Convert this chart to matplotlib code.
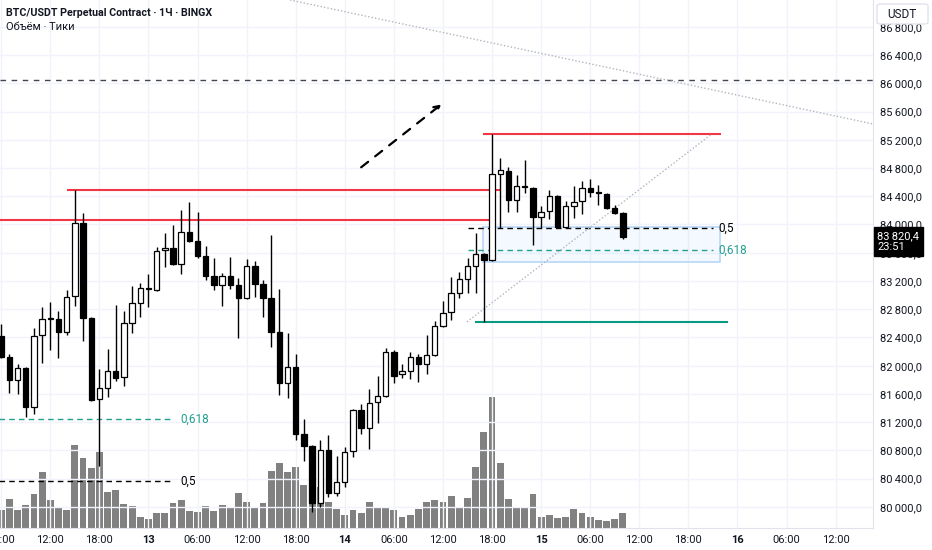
import matplotlib
matplotlib.use("Agg")
import matplotlib.pyplot as plt
from matplotlib.patches import Rectangle, FancyBboxPatch
from matplotlib.transforms import blended_transform_factory

# Hourly candles, 12th 06:00 -> 15th 10:00 (BTC/USDT, BingX)
opens = [82421, 82124, 81798, 81968, 81416, 82435, 82665, 82662, 82478, 82987,
         84021, 82676, 81529, 81685, 81925, 81840, 82605, 82888, 83101, 83072,
         83639, 83667, 83441, 83894, 83766, 83554, 83271, 83143, 83271, 83143,
         82959, 83412, 83157, 82959, 82478, 81755, 81982, 81033, 80863, 80056,
         80807, 80198, 80354, 80793, 81373, 81118, 81487, 81571, 82195, 81883,
         81925, 82124, 82025, 82152, 82563, 82761, 83030, 83228, 83412, 83582,
         83497, 84715, 84757, 84347, 84545, 84517, 84106, 84191, 84403, 83965,
         84262, 84333, 84517, 84460, 84432, 84234, 84163]
highs = [82591, 82166, 82025, 81982, 82534, 82832, 82903, 82775, 83072, 84488,
         84163, 82690, 81954, 82237, 82860, 82775, 83129, 83171, 83299, 83681,
         83880, 83993, 84205, 84319, 84177, 83695, 83526, 83313, 83540, 83242,
         83511, 83483, 83214, 83851, 83087, 82463, 82166, 81246, 80878, 80948,
         81019, 80722, 80849, 81387, 81458, 81671, 81855, 82251, 82223, 82025,
         82195, 82166, 82435, 82633, 82917, 83256, 83327, 83526, 83880, 83590,
         85285, 84942, 84814, 84701, 84913, 84531, 84262, 84488, 84417, 84333,
         84545, 84616, 84644, 84559, 84440, 84276, 84177]
lows = [82110, 81614, 81600, 81274, 81317, 82039, 82223, 82110, 82435, 82846,
        82350, 81501, 80584, 81557, 81784, 81713, 82463, 82690, 82832, 83058,
        83398, 83426, 83299, 83752, 83526, 83214, 83072, 82846, 83087, 82393,
        82945, 82973, 82690, 82265, 81586, 81543, 80948, 80651, 79929, 80000,
        80141, 80155, 80283, 80708, 81033, 80821, 81189, 81560, 81755, 81826,
        81812, 81770, 81883, 82140, 82550, 82648, 82959, 83030, 83030, 82620,
        83483, 83950, 84177, 84177, 84446, 83710, 83950, 84078, 83950, 83950,
        84092, 84149, 84389, 84276, 84225, 84155, 83795]
closes = [82124, 81798, 81968, 81416, 82421, 82662, 82675, 82478, 82973, 84021,
          82676, 81515, 81685, 81925, 81826, 82605, 82888, 83101, 83087, 83625,
          83667, 83441, 83894, 83766, 83554, 83271, 83143, 83271, 83143, 82959,
          83412, 83157, 82959, 82478, 81755, 81982, 81033, 80863, 80056, 80807,
          80198, 80354, 80779, 81373, 81118, 81472, 81571, 82195, 81855, 81925,
          82124, 82025, 82152, 82563, 82747, 83030, 83228, 83412, 83582, 83497,
          84715, 84772, 84347, 84545, 84531, 84106, 84177, 84403, 83965, 84262,
          84319, 84517, 84460, 84446, 84234, 84163, 83820.4]
volumes = [180, 287, 180, 230, 337, 563, 277, 213, 177, 827,
           697, 597, 763, 363, 377, 237, 217, 110, 93, 155,
           147, 253, 277, 170, 160, 217, 170, 230, 197, 353,
           263, 213, 253, 570, 647, 563, 615, 430, 537, 410,
           263, 190, 127, 177, 150, 263, 213, 203, 183, 110,
           127, 187, 263, 277, 263, 325, 197, 297, 610, 963,
           1313, 653, 287, 210, 203, 337, 113, 127, 97, 110,
           187, 147, 113, 83, 70, 93, 147]

# time axis: one label every 6 candles, starting at the first candle
time_labels = ["06:00", "12:00", "18:00", "13", "06:00", "12:00", "18:00", "14",
               "06:00", "12:00", "18:00", "15", "06:00", "12:00", "18:00", "16",
               "06:00", "12:00"]
day_labels = ["13", "14", "15", "16"]
price_ticks = list(range(80000, 86801, 400))

# drawn levels
resistance_top = 85285
resistance_mid = 84489
resistance_low = 84064
support_low = 82620
level_86k = 86045
fib_right = [("0,5", 83950), ("0,618", 83639)]
fib_left = [("0,5", 80368), ("0,618", 81246)]
zone_top, zone_bottom = 83969, 83473
last_price = 83820.4
last_time_left = "23:51"

RED = "#f23645"
TEAL = "#22a08f"
GREEN = "#089981"
GRID = "#f0f3fa"
TXT = "#131722"

plt.rcParams["font.family"] = ["Roboto", "DejaVu Sans"]


def fmt_price(v):
    s = f"{v:,.1f}"
    return s.replace(",", "\u202f").replace(".", ",")


fig = plt.figure(figsize=(9.32, 5.5), dpi=100)
ax = fig.add_axes([0, 22 / 550, 873 / 932, 528 / 550])
vol_ax = ax.twinx()
ax.set_zorder(2)
vol_ax.set_zorder(1)
ax.patch.set_visible(False)

n = len(closes)
xs = list(range(n))

# volume pane (overlaid at the bottom)
vol_ax.bar(xs, volumes, width=0.84, color="#7a7a7a", alpha=0.95, zorder=1)
vol_ax.set_ylim(0, 5280)
vol_ax.axis("off")

ax.set_xlim(-0.15, 106.57)
ax.set_ylim(79702, 87179)

# grid
tick_pos = [i * 6 for i in range(len(time_labels))]
for t in tick_pos:
    ax.axvline(t, color=GRID, lw=1, zorder=0)
for p in price_ticks:
    ax.axhline(p, color=GRID, lw=1, zorder=0)

# candles
for i in xs:
    o, h, l, c = opens[i], highs[i], lows[i], closes[i]
    ax.vlines(i, l, h, color="black", lw=1, zorder=3)
    up = c >= o
    body = max(abs(c - o), 8)
    ax.bar(i, body, bottom=min(o, c), width=0.66,
           color="white" if up else "black", edgecolor="black", lw=0.9, zorder=4)

# horizontal levels
ax.axhline(level_86k, color="#434651", lw=1, ls=(0, (4, 4)), zorder=2)
ax.hlines(resistance_low, -1, 60.0, color=RED, lw=1.5, zorder=2)
ax.hlines(resistance_mid, 8.0, 61.0, color=RED, lw=1.5, zorder=2)
ax.hlines(resistance_top, 58.9, 88.0, color=RED, lw=1.5, zorder=2)
ax.hlines(support_low, 57.9, 88.8, color=GREEN, lw=1.5, zorder=2)

# fib zone on the right
ax.add_patch(Rectangle((58.86, zone_bottom), 87.87 - 58.86, zone_top - zone_bottom,
                       facecolor="#2196f3", alpha=0.05, edgecolor="none", zorder=1))
ax.add_patch(Rectangle((58.86, zone_bottom), 87.87 - 58.86, zone_top - zone_bottom,
                       facecolor="none", edgecolor="#b8d7f6", lw=1.2, zorder=1))
for name, val in fib_right:
    col = TEAL if name == "0,618" else "black"
    ax.hlines(val, 57.06, 87.0, color=col, lw=1, ls=(0, (4, 3)), zorder=2)
    ax.text(87.7, val, name, color=col, fontsize=8.5, va="center", ha="left", zorder=5)

# fib levels on the left
for name, val in fib_left:
    col = TEAL if name == "0,618" else "black"
    ax.hlines(val, -1, 20.9, color=col, lw=1, ls=(0, (4, 3)), zorder=2)
    ax.text(21.85, val, name, color=col, fontsize=8.5, va="center", ha="left", zorder=5)

# trend lines
ax.plot([35.3, 106.6], [87179, 85423], color="#b2b5be", lw=1, ls=(0, (1, 1.5)), zorder=2)
ax.plot([56.93, 86.85], [support_low, 85281], color="#b2b5be", lw=1, ls=(0, (1, 1.5)), zorder=2)

# dashed arrow
ax.annotate("", xy=(53.8, 85700), xytext=(44.0, 84810),
            arrowprops=dict(arrowstyle="->", color="black", lw=1.6,
                            linestyle=(0, (4, 4)), shrinkA=0, shrinkB=0), zorder=5)

# axes styling
for side in ["top", "left"]:
    ax.spines[side].set_visible(False)
ax.spines["right"].set_color("#e0e3eb")
ax.spines["bottom"].set_color("#e0e3eb")
ax.yaxis.tick_right()
ax.set_yticks(price_ticks)
ax.set_yticklabels([fmt_price(p) for p in price_ticks])
ax.tick_params(axis="y", length=0, pad=5, labelsize=8, labelcolor=TXT)
ax.set_xticks(tick_pos)
ax.set_xticklabels(time_labels)
ax.tick_params(axis="x", length=0, pad=5, labelsize=8, labelcolor=TXT)
for lab in ax.get_xticklabels():
    if lab.get_text() in day_labels:
        lab.set_fontweight("bold")

# last price label
blend = blended_transform_factory(ax.transAxes, ax.transData)
ax.annotate(fmt_price(last_price) + "\n" + last_time_left, xy=(1, last_price), xycoords=blend,
            xytext=(3.2, 4.5), textcoords="offset points", va="top", ha="left",
            color="white", fontsize=8, linespacing=1.1, annotation_clip=False,
            bbox=dict(boxstyle="square,pad=0.35", fc="black", ec="black"), zorder=10)

# header texts
fig.text(6 / 932, 1 - 13 / 550, "BTC/USDT Perpetual Contract · 1Ч · BINGX",
         fontsize=7.7, fontweight="bold", color=TXT, va="center", ha="left")
fig.text(6 / 932, 1 - 27 / 550, "Объём · Тики", fontsize=8, color=TXT,
         va="center", ha="left")

# currency badge in the top right corner
badge = FancyBboxPatch((877 / 932, 1 - 24 / 550), 51 / 932, 20 / 550,
                       boxstyle="round,pad=0,rounding_size=0.004",
                       transform=fig.transFigure, fc="white", ec="#e0e3eb", lw=1,
                       zorder=2)
fig.patches.append(badge)
fig.text(902 / 932, 1 - 14 / 550, "USDT", fontsize=8.5, color=TXT, va="center",
         ha="center", zorder=3)

fig.savefig("out.png", dpi=100, facecolor="white")
